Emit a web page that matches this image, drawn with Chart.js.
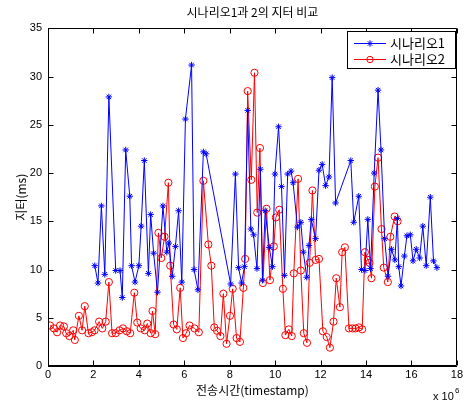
<!DOCTYPE html>
<html>
<head>
<meta charset="utf-8">
<script src="https://cdn.jsdelivr.net/npm/chart.js@4/dist/chart.umd.min.js"></script>
<style>
  html, body { margin: 0; padding: 0; background: #fff; }
  #jitterChart { display: block; }
</style>
</head>
<body>
<canvas id="jitterChart" width="465" height="401"></canvas>
<script>
// timestamps are in units of 10^6
const s1Time = [2.06, 2.2, 2.35, 2.5, 2.68, 2.98, 3.17, 3.27, 3.42, 3.6, 3.68, 3.83, 4.0, 4.1, 4.24, 4.42,
  4.52, 4.65, 4.82, 5.06, 5.23, 5.32, 5.47, 5.61, 5.75, 5.89, 6.05, 6.32, 6.43, 6.6, 6.84, 6.96,
  8.04, 8.25, 8.39, 8.52, 8.65, 8.79, 8.93, 9.05, 9.2, 9.35, 9.44, 9.56, 9.74, 9.88, 9.99, 10.15,
  10.28, 10.41, 10.55, 10.7, 10.79, 10.98, 11.13, 11.24, 11.39, 11.49, 11.59, 11.78, 11.93, 12.07,
  12.22, 12.37, 12.51, 12.66, 13.33, 13.46, 13.68, 13.8, 13.95, 14.08, 14.2, 14.36, 14.53, 14.66,
  14.82, 14.97, 15.12, 15.27, 15.38, 15.44, 15.54, 15.69, 15.8, 15.95, 16.07, 16.21, 16.36, 16.5,
  16.65, 16.83, 16.97, 17.12];
const s1Jitter = [10.4, 8.6, 16.6, 9.5, 27.9, 9.9, 9.9, 7.1, 22.4, 17.6, 10.4, 8.7, 10.4, 14.5, 21.3, 9.6,
  15.7, 11.7, 7.65, 16.6, 11.8, 12.75, 9.3, 12.4, 16.1, 8.7, 25.6, 31.2, 10.0, 7.9, 22.2, 22.0,
  8.5, 19.9, 10.2, 8.6, 10.3, 26.5, 14.2, 13.6, 10.1, 20.4, 8.9, 16.1, 12.3, 10.3, 19.9, 24.8,
  18.6, 9.4, 19.9, 20.2, 19.0, 14.4, 14.9, 11.8, 9.2, 12.5, 15.2, 13.2, 20.3, 20.9,
  18.7, 19.6, 29.9, 16.9, 21.3, 14.9, 17.6, 10.0, 9.9, 15.2, 10.1, 20.0, 28.6, 22.4,
  13.2, 9.3, 12.1, 11.0, 15.3, 10.3, 8.3, 11.4, 13.5, 13.6, 10.9, 12.1, 11.2, 14.5,
  10.4, 17.5, 10.9, 10.2];

const s2Time = [0.09, 0.26, 0.4, 0.53, 0.7, 0.8, 0.94, 1.11, 1.18, 1.36, 1.5, 1.62, 1.78, 1.93, 2.05, 2.25,
  2.39, 2.54, 2.68, 2.82, 2.98, 3.15, 3.3, 3.47, 3.62, 3.8, 3.93, 4.08, 4.26, 4.37, 4.52, 4.6,
  4.72, 4.86, 4.99, 5.13, 5.3, 5.38, 5.53, 5.67, 5.82, 5.94, 6.08, 6.23, 6.45, 6.64, 6.84, 7.06,
  7.19, 7.32, 7.44, 7.59, 7.72, 7.86, 8.01, 8.13, 8.3, 8.45, 8.6, 8.68, 8.79, 8.95, 9.09, 9.21,
  9.33, 9.46, 9.62, 9.77, 9.94, 10.03, 10.18, 10.34, 10.45, 10.6, 10.73, 10.82, 11.01, 11.13, 11.26, 11.4,
  11.52, 11.64, 11.78, 11.93, 12.1, 12.27, 12.41, 12.57, 12.69, 12.85, 12.95, 13.07, 13.25, 13.4, 13.54, 13.69,
  13.83, 13.95, 14.08, 14.15, 14.24, 14.39, 14.53, 14.68, 14.78, 14.96, 15.07, 15.26, 15.39];
const s2Jitter = [4.2, 3.9, 3.5, 4.2, 4.1, 3.4, 3.1, 3.7, 2.7, 5.2, 3.7, 6.2, 3.4, 3.5, 3.7, 4.6,
  3.9, 4.6, 8.7, 3.4, 3.4, 3.7, 3.9, 3.6, 3.4, 7.6, 4.5, 3.9, 3.7, 4.4, 3.4, 5.7,
  3.3, 13.8, 11.2, 13.4, 19.0, 10.4, 4.3, 3.8, 8.1, 2.9, 3.4, 4.2, 3.9, 3.5, 19.2, 12.6,
  10.4, 4.0, 3.65, 3.1, 7.5, 2.3, 5.2, 8.0, 2.9, 2.5, 8.1, 11.1, 28.5, 19.3, 30.4, 15.9,
  22.6, 8.6, 16.3, 8.9, 12.4, 15.4, 16.2, 8.0, 3.2, 3.8, 3.1, 9.6, 19.4, 9.9, 3.4, 2.4,
  10.7, 18.2, 11.0, 11.1, 3.6, 3.0, 1.9, 4.6, 9.1, 6.1, 11.8, 12.3, 3.9, 3.9, 3.9, 4.0,
  3.8, 11.8, 11.0, 10.7, 9.1, 18.6, 21.6, 14.2, 10.2, 8.7, 13.4, 15.5, 15.0];

const seriesNames = ['시나리오1', '시나리오2'];
const xTicks = [0, 2, 4, 6, 8, 10, 12, 14, 16, 18];
const yTicks = [0, 5, 10, 15, 20, 25, 30, 35];

const BLUE = '#0000ff';
const RED = '#ff0000';
const korFont = "'Noto Sans CJK KR', 'Noto Sans', sans-serif";
const latFont = "'Liberation Sans', Arial, sans-serif";

function toPoints(xs, ys) {
    return xs.map((t, i) => ({ x: t, y: ys[i] }));
}

// box, inward tick marks, legend, x 10^6 note
const framePlugin = {
    id: 'frame',
    afterDraw(chart) {
        const { ctx, chartArea: a, scales } = chart;
        const L = Math.round(a.left) + 0.5, R = Math.round(a.right) - 0.5;
        const T = Math.round(a.top) + 0.5, B = Math.round(a.bottom) - 0.5;
        ctx.save();
        ctx.strokeStyle = '#000';
        ctx.lineWidth = 1;
        ctx.beginPath();
        ctx.moveTo(L, T); ctx.lineTo(R, T); ctx.lineTo(R, B); ctx.lineTo(L, B); ctx.closePath();
        const tl = 5;
        xTicks.forEach(v => {
            const px = Math.round(scales.x.getPixelForValue(v)) + 0.5;
            ctx.moveTo(px, B); ctx.lineTo(px, B - tl);
            ctx.moveTo(px, T); ctx.lineTo(px, T + tl);
        });
        yTicks.forEach(v => {
            const py = Math.round(scales.y.getPixelForValue(v)) + 0.5;
            ctx.moveTo(L, py); ctx.lineTo(L + tl, py);
            ctx.moveTo(R, py); ctx.lineTo(R - tl, py);
        });
        ctx.stroke();

        // legend box
        const bx = 347.5, by = 31.5, bw = 108, bh = 37;
        ctx.fillStyle = '#fff';
        ctx.fillRect(bx, by, bw, bh);
        ctx.strokeRect(bx, by, bw, bh);
        const colors = [BLUE, RED];
        const styles = ['star', 'circle'];
        ctx.font = '13px ' + korFont;
        ctx.textBaseline = 'middle';
        ctx.textAlign = 'left';
        seriesNames.forEach((name, i) => {
            const yy = 43.5 + i * 16;
            ctx.strokeStyle = colors[i];
            ctx.lineWidth = 1;
            ctx.beginPath();
            ctx.moveTo(354, yy); ctx.lineTo(386, yy);
            ctx.stroke();
            ctx.fillStyle = 'rgba(255,255,255,0)';
            Chart.helpers.drawPoint(ctx, { pointStyle: styles[i], radius: 3.2, borderWidth: 1, rotation: 0 }, 370, yy);
            ctx.fillStyle = '#000';
            ctx.fillText(name, 390, yy);
        });

        // x 10^6
        ctx.fillStyle = '#000';
        ctx.font = '11px ' + latFont;
        ctx.textBaseline = 'alphabetic';
        ctx.fillText('x 10', 433, 400);
        ctx.font = '8px ' + latFont;
        ctx.fillText('6', 455, 393);
        ctx.restore();
    }
};

const ctx = document.getElementById('jitterChart').getContext('2d');
const chart = new Chart(ctx, {
    type: 'scatter',
    data: {
        datasets: [{
            label: seriesNames[0],
            data: toPoints(s1Time, s1Jitter),
            showLine: true,
            borderColor: BLUE,
            borderWidth: 1,
            pointStyle: 'star',
            pointRadius: 3.2,
            pointBorderColor: BLUE,
            pointBorderWidth: 1,
            pointBackgroundColor: BLUE
        }, {
            label: seriesNames[1],
            data: toPoints(s2Time, s2Jitter),
            showLine: true,
            borderColor: RED,
            borderWidth: 1,
            pointStyle: 'circle',
            pointRadius: 3.6,
            pointBorderColor: RED,
            pointBorderWidth: 1,
            pointBackgroundColor: 'rgba(255,255,255,0)'
        }]
    },
    options: {
        responsive: false,
        animation: false,
        devicePixelRatio: 1,
        layout: { padding: { top: 0, right: 7, bottom: 0, left: 0 } },
        plugins: {
            legend: { display: false },
            tooltip: { enabled: false },
            title: {
                display: true,
                fullSize: false,
                text: '시나리오1과 2의 지터 비교',
                color: '#000',
                font: { family: korFont, size: 12, weight: 'normal' },
                padding: { top: 5, bottom: 9 }
            }
        },
        scales: {
            x: {
                type: 'linear',
                min: 0, max: 18,
                afterBuildTicks: s => { s.ticks = xTicks.map(v => ({ value: v })); },
                afterFit: s => { s.height = 35; },
                grid: { display: false, drawTicks: false },
                border: { display: true, color: '#000' },
                ticks: { color: '#000', padding: 2, maxRotation: 0, font: { family: latFont, size: 11 } },
                title: {
                    display: true, text: '전송시간(timestamp)', color: '#000',
                    font: { family: korFont, size: 12 }, padding: { top: 0, bottom: 3 }
                }
            },
            y: {
                type: 'linear',
                min: 0, max: 35,
                afterBuildTicks: s => { s.ticks = yTicks.map(v => ({ value: v })); },
                afterFit: s => { s.width = 48; },
                grid: { display: false, drawTicks: false },
                border: { display: true, color: '#000' },
                ticks: { color: '#000', padding: 6, font: { family: latFont, size: 11 } },
                title: {
                    display: true, text: '지터(ms)', color: '#000',
                    font: { family: korFont, size: 12 }, padding: { top: 14, bottom: 0 }
                }
            }
        }
    },
    plugins: [framePlugin]
});
</script>
</body>
</html>
